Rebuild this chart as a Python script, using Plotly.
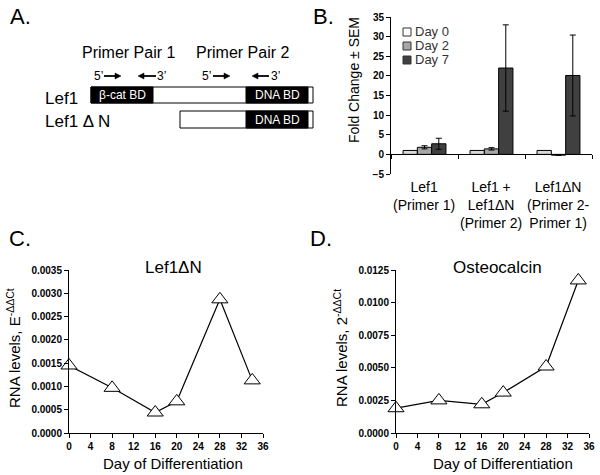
import plotly.graph_objects as go

W, H = 600, 475

# ---------------- data ----------------
# Panel B
groups = ["Lef1 (Primer 1)", "Lef1 + Lef1ΔN (Primer 2)", "Lef1ΔN (Primer 2-Primer 1)"]
group_labels = ["Lef1<br>(Primer 1)", "Lef1 +<br>Lef1ΔN<br>(Primer 2)", "Lef1ΔN<br>(Primer 2-<br>Primer 1)"]
series_names = ["Day 0", "Day 2", "Day 7"]
day0 = [1.0, 1.0, 1.0]
day0_err = [0.0, 0.0, 0.0]
day2 = [1.8, 1.4, -0.2]
day2_err = [0.4, 0.3, 0.0]
day7 = [2.7, 22.0, 20.1]
day7_err = [1.4, 11.0, 10.3]
b_ticks = [-5, 0, 5, 10, 15, 20, 25, 30, 35]

# Panels C and D
days = [0, 8, 16, 20, 28, 34]
lef1dn = [0.00145, 0.00097, 0.00044, 0.00068, 0.00287, 0.00113]
osteocalcin = [0.0019, 0.0025, 0.0022, 0.0031, 0.0051, 0.0117]
x_ticks = [0, 4, 8, 12, 16, 20, 24, 28, 32, 36]

# ---------------- helpers ----------------
def px(x):
    return x / W

def py(y):
    return 1 - y / H

ARIAL = "Liberation Sans, Arial, sans-serif"
TICKFAM = "Liberation Sans, Arial, sans-serif"

fig = go.Figure()

# ---------------- Panel B bars ----------------
bar_colors = ["#d9d9d9", "#a6a6a6", "#404040"]
legend_colors = ["white", "#a6a6a6", "#404040"]
bar_series = [(series_names[0], day0, day0_err, bar_colors[0], False),
              (series_names[1], day2, day2_err, bar_colors[1], True),
              (series_names[2], day7, day7_err, bar_colors[2], True)]
for name, vals, errs, col, show_err in bar_series:
    fig.add_trace(go.Bar(
        x=groups, y=vals, name=name, showlegend=False,
        marker=dict(color=col, line=dict(color="black", width=1)),
        error_y=dict(type="data", array=errs, visible=show_err,
                     color="black", thickness=1, width=3),
        xaxis="x", yaxis="y",
    ))

# ---------------- Panels C, D lines ----------------
for vals, xa, ya in [(lef1dn, "x2", "y2"), (osteocalcin, "x3", "y3")]:
    fig.add_trace(go.Scatter(
        x=days, y=vals, mode="lines+markers", showlegend=False,
        line=dict(color="black", width=1.2),
        marker=dict(symbol="triangle-up", size=14, color="white",
                    line=dict(color="black", width=1)),
        cliponaxis=False, xaxis=xa, yaxis=ya,
    ))

# domains
bx = [px(391), px(592)]
by = [py(174), py(17)]
zero_pos = by[0] + (by[1] - by[0]) * 5 / 40
cx = [px(69), px(263)]
dx = [px(396), px(589)]
cy = [py(433), py(270)]

tickfont = dict(family=TICKFAM, size=10, color="black", weight="bold")
axis_common = dict(showline=True, linecolor="black", linewidth=1, ticks="outside",
                   ticklen=4, tickcolor="black", showgrid=False, zeroline=False,
                   tickfont=tickfont, automargin=False)

fig.update_layout(
    width=W, height=H,
    margin=dict(l=0, r=0, t=0, b=0, pad=0, autoexpand=False),
    paper_bgcolor="white", plot_bgcolor="rgba(0,0,0,0)",
    barmode="group", bargap=0.36, bargroupgap=0,
    showlegend=False,
    xaxis=dict(domain=bx, anchor="free", position=zero_pos, type="category",
               showline=True, linecolor="black", linewidth=1, ticks="outside",
               tickson="boundaries", ticklen=4, tickcolor="black", automargin=False,
               showticklabels=False, showgrid=False, zeroline=False, fixedrange=True),
    yaxis=dict(domain=by, anchor="x", range=[-5, 35], tickvals=b_ticks, **axis_common),
    xaxis2=dict(domain=cx, anchor="y2", range=[0, 36], tickvals=x_ticks, **axis_common),
    yaxis2=dict(domain=cy, anchor="x2", range=[0, 0.0035], dtick=0.0005,
                tickformat=".4f", **axis_common),
    xaxis3=dict(domain=dx, anchor="y3", range=[0, 36], tickvals=x_ticks, **axis_common),
    yaxis3=dict(domain=cy, anchor="x3", range=[0, 0.0125], dtick=0.0025,
                tickformat=".4f", **axis_common),
)

ann = []
shapes = []

def text(x, y, t, size, xanchor="center", color="black", angle=0, family=ARIAL):
    ann.append(dict(x=px(x), y=py(y), xref="paper", yref="paper", text=t,
                    showarrow=False, xanchor=xanchor, yanchor="middle",
                    textangle=angle, font=dict(family=family, size=size, color=color)))

# panel letters
text(8, 17, "A.", 22, xanchor="left")
text(311, 17, "B.", 22, xanchor="left")
text(7, 238, "C.", 22, xanchor="left")
text(308, 238, "D.", 22, xanchor="left")

# ---------------- Panel A diagram ----------------
text(128, 53, "Primer Pair 1", 16)
text(242, 53, "Primer Pair 2", 16)

# primer direction labels
text(98, 76, "5’", 12)
text(161, 76, "3’", 12)
text(207, 76, "5’", 12)
text(275, 76, "3’", 12)

def arrow(x0, x1, y):
    d = 1 if x1 > x0 else -1
    hx = x1 - d * 6
    shapes.append(dict(type="line", xref="paper", yref="paper",
                       x0=px(x0), x1=px(hx), y0=py(y), y1=py(y),
                       line=dict(color="black", width=1.8)))
    shapes.append(dict(type="path", xref="paper", yref="paper",
                       path=f"M {px(x1)} {py(y)} L {px(hx)} {py(y - 3)} L {px(hx)} {py(y + 3)} Z",
                       fillcolor="black", line=dict(color="black", width=0.5)))

arrow(104, 121, 76)
arrow(156, 138, 76)
arrow(213, 230, 76)
arrow(269, 252, 76)

def rect(x0, y0, x1, y1, fill, lc="black"):
    shapes.append(dict(type="rect", xref="paper", yref="paper",
                       x0=px(x0), x1=px(x1), y0=py(y1), y1=py(y0),
                       fillcolor=fill, line=dict(color=lc, width=1)))

rect(91, 87, 313, 103, "white")
rect(91, 87, 153, 103, "black")
rect(246, 87, 308, 103, "black")
rect(180, 111, 313, 128, "white")
rect(246, 111, 308, 128, "black")

text(122, 95, "β-cat BD", 12, color="white")
text(277, 95, "DNA BD", 12, color="white")
text(277, 119.5, "DNA BD", 12, color="white")
text(43, 98, "Lef1", 17, xanchor="left")
text(43, 122, "Lef1 Δ N", 17, xanchor="left")

# ---------------- Panel B labels ----------------
text(354, 80, "Fold Change ± SEM", 14, angle=-90)
for g, lab in zip(groups, group_labels):
    ann.append(dict(x=g, y=py(177), xref="x", yref="paper", text=lab, showarrow=False,
                    xanchor="center", yanchor="top", align="center",
                    font=dict(family=ARIAL, size=14, color="black")))

# legend (panel B)
for i, (name, col) in enumerate(zip(series_names, legend_colors)):
    yc = 32 + i * 14
    rect(403, yc - 4, 411, yc + 4, col, lc="#333")
    text(413, yc, name, 13, xanchor="left", color="#333")

# ---------------- Panels C, D labels ----------------
text(173, 267, "Lef1ΔN", 17)
text(497, 267, "Osteocalcin", 17)
text(13, 348, "RNA levels, E<sup>-ΔΔCt</sup>", 15, angle=-90)
text(340, 348, "RNA levels, 2<sup>-ΔΔCt</sup>", 15, angle=-90)
text(173, 463, "Day of Differentiation", 15)
text(503, 463, "Day of Differentiation", 15)

fig.update_layout(annotations=ann, shapes=shapes)

fig.write_html("out.html", config={"displayModeBar": False},
               post_script="document.body.style.margin='0';")
